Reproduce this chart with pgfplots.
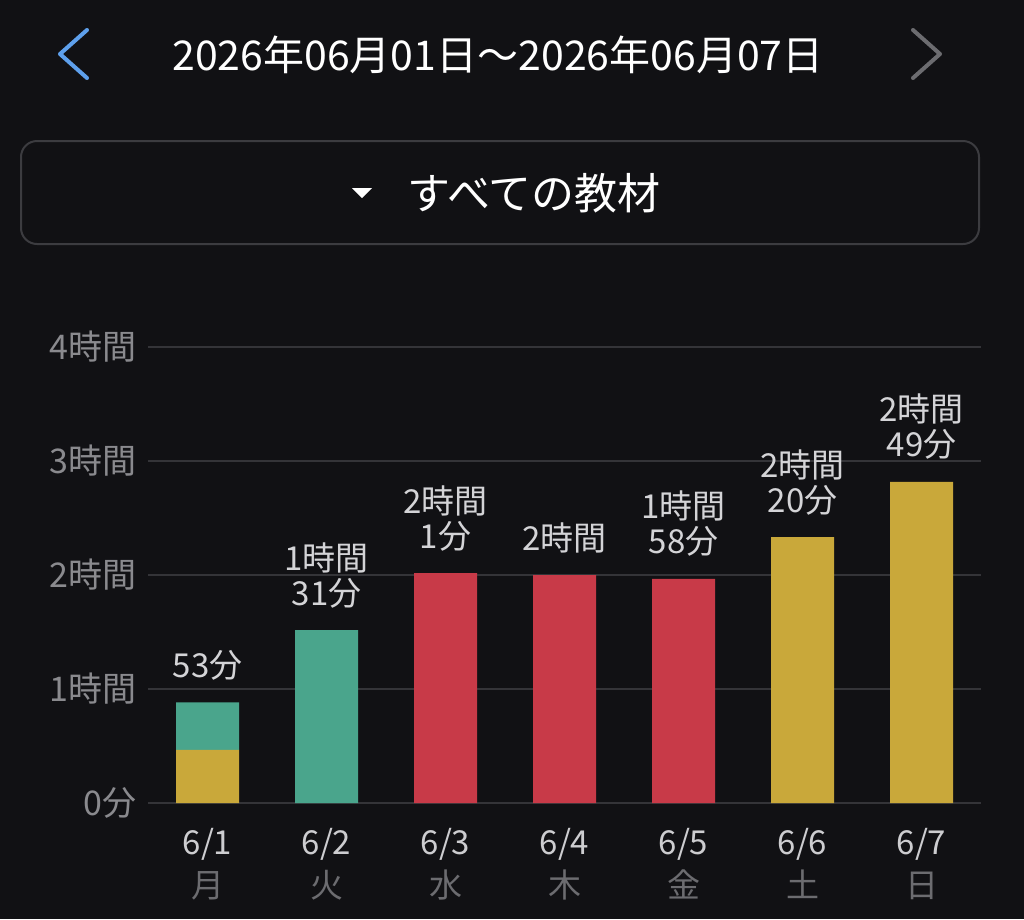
\documentclass[border=0pt]{standalone}
\usepackage{pgfplots}
\pgfplotsset{compat=1.18}
\usepackage{fontspec}
\setmainfont{Noto Sans CJK JP}
\definecolor{bg}{RGB}{17,17,20}
\definecolor{gridc}{RGB}{52,52,56}
\definecolor{boxc}{RGB}{60,60,64}
\definecolor{tickc}{RGB}{138,138,142}
\definecolor{datec}{RGB}{205,205,208}
\definecolor{dayc}{RGB}{108,108,112}
\definecolor{valc}{RGB}{212,212,215}
\definecolor{navblue}{RGB}{94,160,236}
\definecolor{navgray}{RGB}{108,108,112}
\definecolor{cyel}{RGB}{201,168,58}
\definecolor{cgrn}{RGB}{74,165,140}
\definecolor{cred}{RGB}{200,58,72}
\begin{document}
\begin{tikzpicture}
\fill[bg] (0pt,0pt) rectangle (1024pt,-919pt);
\begin{scope}[x=1pt,y=-1pt]
% header
\node[text=white, font=\fontsize{41}{43}\selectfont] at (498,55) {2026年06月01日～2026年06月07日};
\draw[navblue, line width=4pt, line cap=round, line join=round] (87,30) -- (60,54) -- (87,78);
\draw[navgray, line width=4pt, line cap=round, line join=round] (913,30) -- (940,54) -- (913,78);
% selector box
\draw[boxc, line width=2pt, rounded corners=16pt] (21,141) rectangle (979,244);
\fill[white] (352,188) -- (372,188) -- (362,198) -- cycle;
\node[anchor=west, text=white, font=\fontsize{43}{45}\selectfont] at (404,193) {すべての教材};
\end{scope}
\begin{axis}[
  at={(148pt,-803pt)}, anchor=south west,
  scale only axis, width=833pt, height=456pt,
  xmin=-0.5, xmax=6.5, ymin=0, ymax=240,
  ybar stacked, bar width=63pt,
  clip=false,
  axis line style={draw=none},
  major tick length=0pt,
  ymajorgrids, grid style={gridc, line width=1.2pt},
  ytick={0,60,120,180,240},
  yticklabels={0分,1時間,2時間,3時間,4時間},
  yticklabel style={text=tickc, font=\fontsize{34}{36}\selectfont, xshift=-8pt},
  xtick={0,1,2,3,4,5,6},
  xticklabels={{6/1\\\color{dayc}月},{6/2\\\color{dayc}火},{6/3\\\color{dayc}水},{6/4\\\color{dayc}木},{6/5\\\color{dayc}金},{6/6\\\color{dayc}土},{6/7\\\color{dayc}日}},
  xticklabel style={text=datec, align=center, font=\fontsize{33}{43}\selectfont, yshift=-22pt},
]
\addplot[fill=cyel, draw=none] coordinates {(0,28) (1,0) (2,0) (3,0) (4,0) (5,140) (6,169)};
\addplot[fill=cgrn, draw=none] coordinates {(0,25) (1,91) (2,0) (3,0) (4,0) (5,0) (6,0)};
\addplot[fill=cred, draw=none] coordinates {(0,0) (1,0) (2,121) (3,120) (4,118) (5,0) (6,0)};
\tikzset{vl/.style={anchor=south, inner sep=0pt, yshift=22pt, align=center, text=valc, font=\fontsize{33}{35}\selectfont}}
\node[vl] at (axis cs:0,53) {53分};
\node[vl] at (axis cs:1,91) {1時間\\31分};
\node[vl] at (axis cs:2,121) {2時間\\1分};
\node[vl] at (axis cs:3,120) {2時間};
\node[vl] at (axis cs:4,118) {1時間\\58分};
\node[vl] at (axis cs:5,140) {2時間\\20分};
\node[vl] at (axis cs:6,169) {2時間\\49分};
\end{axis}
\end{tikzpicture}
\end{document}
